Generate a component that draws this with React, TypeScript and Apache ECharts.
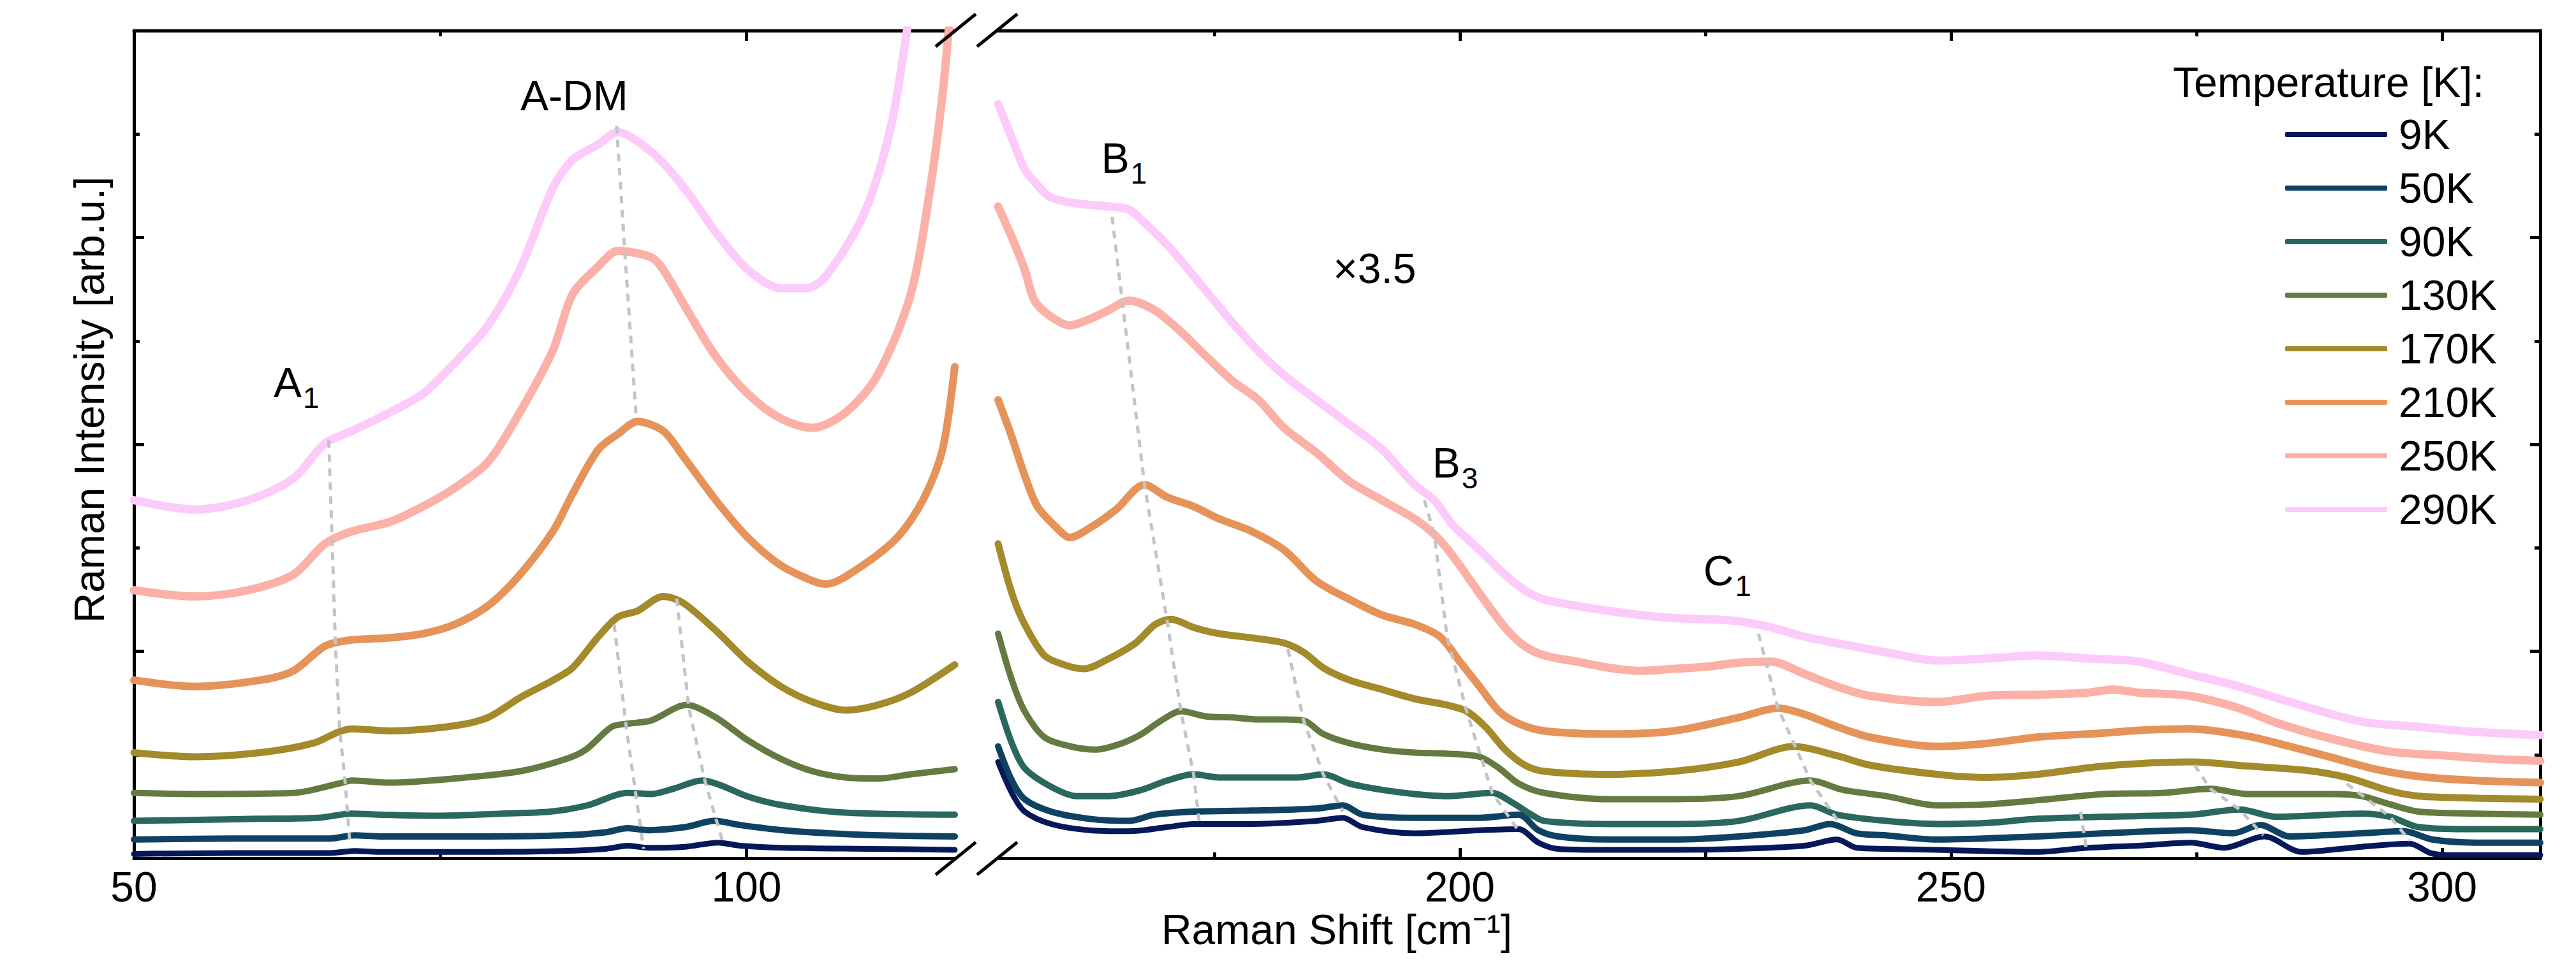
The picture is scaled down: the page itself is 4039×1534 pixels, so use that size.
import React, { useEffect, useRef } from 'react';
import * as echarts from 'echarts';

const FONT = '"Liberation Sans", Arial, Helvetica, sans-serif';
const W = 4039;
const H = 1534;

const temps = ['9K', '50K', '90K', '130K', '170K', '210K', '250K', '290K'];
const colors = ['#06185a', '#0f4262', '#2a675c', '#657a40', '#a38a2a', '#e6935a', '#fbb0a8', '#fccbfa'];
const widths = [9, 10, 10, 10, 11, 12, 13, 13];

// x ticks
const leftMajor = [50, 100];
const leftMinor = [75];
const rightMajor = [200, 250, 300];
const rightMinor = [175, 225, 275];

// ---- left panel (50 - 117 cm-1) ----
const left9K = [[50,0.04],[58,0.05],[66,0.05],[68,0.07],[70,0.06],[78,0.06],[85,0.07],[88.5,0.09],[90.3,0.12],[92,0.1],[95,0.11],[97.7,0.15],[99.5,0.12],[103,0.1],[110,0.09],[117,0.08]];
const left50K = [[50,0.18],[58,0.19],[66,0.19],[68,0.22],[70,0.21],[78,0.21],[85,0.22],[88.5,0.25],[90.3,0.29],[92,0.27],[95,0.3],[97.4,0.36],[99.5,0.32],[103,0.27],[106.7,0.24],[111,0.22],[117,0.21]];
const left90K = [[50,0.36],[55,0.37],[60,0.38],[65,0.39],[67.8,0.43],[70,0.42],[75,0.41],[80,0.43],[84,0.45],[87,0.51],[90.3,0.63],[92.2,0.62],[94,0.67],[96.4,0.75],[98,0.7],[100,0.6],[103,0.51],[108,0.44],[117,0.42]];
const left130K = [[50,0.63],[55,0.62],[63,0.63],[66.7,0.72],[67.8,0.75],[70.9,0.73],[76.2,0.77],[81.5,0.84],[85.3,0.96],[86.9,1.05],[89,1.27],[90.3,1.3],[92.2,1.33],[95.1,1.48],[97.5,1.36],[100.1,1.14],[102.8,0.96],[105.4,0.84],[108.1,0.78],[110.7,0.77],[113.4,0.81],[117,0.86]];
const left170K = [[50,1.02],[55,0.98],[60.3,1.02],[64.6,1.11],[66.7,1.22],[67.8,1.25],[70.9,1.23],[76.2,1.28],[78.9,1.36],[81.5,1.55],[84.2,1.72],[85.8,1.84],[87.9,2.14],[89.5,2.33],[91.1,2.39],[93.2,2.53],[94.8,2.47],[97.5,2.2],[100.1,1.9],[102.8,1.66],[105.4,1.51],[108.1,1.43],[110.7,1.48],[113.4,1.6],[117,1.87]];
const left210K = [[50,1.72],[55,1.66],[60.3,1.72],[63,1.81],[65.6,2.05],[67.8,2.11],[70.9,2.13],[73.6,2.17],[76.2,2.26],[78.9,2.44],[81.5,2.74],[84.2,3.16],[85.8,3.52],[87.9,3.95],[89.5,4.1],[91.1,4.22],[93.2,4.13],[94.8,3.89],[97.5,3.46],[100.1,3.1],[102.8,2.83],[105.4,2.68],[106.5,2.65],[109.1,2.8],[112.3,3.1],[114.4,3.46],[116,3.95],[117,4.75]];
const left250K = [[50,2.59],[55,2.53],[59.3,2.59],[63,2.74],[65.6,3.04],[67.8,3.16],[70.9,3.25],[73.6,3.4],[76.2,3.58],[78.9,3.83],[81.5,4.31],[84.2,4.91],[85.8,5.45],[87.9,5.72],[89.5,5.87],[92.2,5.81],[93.2,5.69],[95.3,5.27],[97.5,4.85],[100.1,4.49],[102.8,4.25],[105.4,4.16],[108.1,4.31],[110.7,4.67],[113.4,5.45],[115,6.48],[116,7.38],[116.5,8.0],[117,8.6]];
const left290K = [[50,3.46],[55,3.37],[59.3,3.46],[63,3.67],[65.6,4.01],[67.8,4.13],[70.9,4.31],[73.6,4.49],[76.2,4.79],[78.9,5.15],[81.5,5.69],[84.2,6.48],[85.8,6.75],[87.9,6.9],[89.5,7.02],[91.1,6.93],[93.2,6.72],[95.3,6.42],[97.5,6.05],[100.1,5.69],[102.8,5.51],[104.9,5.51],[106.5,5.63],[109.6,6.23],[111.8,7.08],[113.1,8.0],[113.8,8.6]];

// ---- right panel (153 - 310 cm-1), ×3.5 ----
const right9K = [[153,0.93],[154.4,0.63],[155.7,0.45],[158.4,0.33],[162.3,0.27],[166.3,0.26],[170.2,0.3],[172.9,0.33],[178.8,0.33],[185.4,0.36],[188.1,0.39],[190.1,0.3],[195.4,0.24],[202,0.27],[206,0.28],[208,0.15],[210,0.09],[215.2,0.08],[221.8,0.08],[228.4,0.09],[235.1,0.12],[238.4,0.18],[240.4,0.1],[243.4,0.09],[248.6,0.08],[258.8,0.06],[263.9,0.1],[269.1,0.12],[274.4,0.15],[277.8,0.1],[281.9,0.21],[285.7,0.06],[291.8,0.11],[296.7,0.14],[298.8,0.05],[300.5,0.03],[310,0.03]];
const right50K = [[153,1.08],[154.4,0.75],[155.7,0.57],[158.4,0.45],[162.3,0.38],[166.3,0.36],[168.9,0.42],[172.9,0.45],[178.8,0.46],[185.4,0.48],[188.1,0.51],[190.1,0.42],[195.4,0.39],[202,0.39],[206,0.42],[208,0.27],[210,0.21],[215.2,0.18],[221.8,0.18],[228.4,0.21],[235.1,0.27],[237.7,0.33],[240.4,0.24],[243.4,0.22],[248.6,0.18],[258.8,0.21],[265.6,0.24],[274.4,0.27],[278.7,0.24],[281.5,0.32],[284.5,0.21],[291.8,0.24],[296.1,0.26],[299,0.18],[303.4,0.15],[310,0.15]];
const right90K = [[153,1.51],[154.4,1.11],[155.7,0.87],[158.4,0.69],[161,0.6],[164.3,0.6],[167.6,0.66],[170.2,0.75],[172.9,0.81],[175.5,0.78],[179.5,0.78],[183.5,0.78],[186.1,0.81],[188.8,0.72],[192.1,0.66],[195.4,0.62],[198.7,0.6],[203.3,0.63],[205.3,0.54],[207.3,0.42],[208.6,0.36],[215.2,0.33],[221.8,0.33],[228.4,0.36],[235.7,0.51],[238.4,0.42],[243.4,0.36],[248.6,0.33],[253.7,0.34],[258.8,0.38],[265.6,0.4],[274.4,0.42],[279.4,0.47],[283.1,0.4],[291.8,0.43],[294.7,0.4],[297.6,0.3],[303.4,0.28],[310,0.28]];
const right130K = [[153,2.17],[154.4,1.72],[155.7,1.42],[157.7,1.17],[160.4,1.08],[163,1.05],[165.6,1.11],[167.6,1.2],[169.6,1.33],[171.6,1.42],[174.2,1.37],[176.9,1.36],[179.5,1.34],[182.1,1.34],[184.1,1.33],[186.1,1.2],[188.8,1.11],[192.1,1.05],[195.4,1.02],[198.7,1.01],[202,0.98],[204,0.87],[206,0.72],[208.6,0.63],[215.2,0.57],[221.8,0.57],[228.4,0.6],[235.7,0.75],[239,0.66],[243.4,0.6],[248.6,0.51],[253.7,0.52],[258.8,0.56],[265.6,0.62],[271.5,0.63],[276.4,0.67],[280.2,0.62],[288.9,0.62],[291.8,0.6],[294.7,0.52],[297.6,0.45],[303.4,0.43],[310,0.42]];
const right170K = [[153,3.04],[154.4,2.56],[155.7,2.26],[157.7,1.96],[159.7,1.87],[161.7,1.83],[164.3,1.93],[167,2.08],[169,2.26],[170.6,2.31],[172.9,2.23],[175.5,2.17],[178.8,2.13],[182.1,2.08],[184.1,1.99],[186.1,1.84],[188.8,1.72],[192.1,1.63],[195.4,1.54],[198.7,1.48],[200.7,1.42],[202.6,1.27],[204.6,1.05],[206.6,0.9],[208.6,0.84],[215.2,0.81],[221.8,0.84],[228.4,0.93],[234,1.08],[238.4,0.99],[241.7,0.9],[248.6,0.81],[253.7,0.78],[258.8,0.81],[265.6,0.89],[274.4,0.93],[280.2,0.89],[286,0.85],[290.3,0.78],[294.7,0.65],[297.6,0.6],[303.4,0.58],[310,0.57]];
const right210K = [[153,4.43],[154.4,4.07],[155.7,3.7],[157,3.4],[159,3.19],[160.3,3.1],[162.3,3.19],[165,3.37],[167.9,3.61],[170.2,3.49],[172.9,3.4],[175.5,3.28],[178.8,3.16],[182.1,2.98],[185.4,2.68],[188.8,2.5],[192.1,2.35],[195.4,2.26],[198,2.14],[200,1.9],[202,1.66],[204,1.42],[206,1.3],[208.6,1.23],[215.2,1.2],[221.8,1.23],[228.4,1.36],[232.4,1.45],[235.1,1.39],[238.4,1.27],[241.7,1.17],[248.6,1.08],[253.7,1.11],[258.8,1.17],[265.6,1.21],[270,1.24],[274.4,1.25],[280.2,1.18],[284.5,1.08],[288.9,0.97],[293.2,0.86],[297.6,0.79],[303.4,0.75],[310,0.73]];
const right250K = [[153,6.3],[154.4,6.0],[155.7,5.69],[156.7,5.39],[158.3,5.24],[160.3,5.15],[162.3,5.21],[164.3,5.3],[166.3,5.39],[168.9,5.3],[171.6,5.09],[174.2,4.85],[176.9,4.61],[179.5,4.43],[182.1,4.16],[185.4,3.92],[188.8,3.64],[192.1,3.46],[195.4,3.28],[197.4,3.13],[199.3,2.92],[202,2.56],[204.6,2.23],[206.6,2.05],[208.6,1.96],[211.9,1.9],[215.2,1.84],[218.5,1.81],[221.8,1.83],[225.1,1.85],[228.4,1.89],[231.7,1.9],[235.1,1.78],[238.4,1.66],[241.7,1.57],[248.6,1.51],[253.7,1.57],[258.8,1.58],[263.9,1.6],[266.5,1.63],[269.1,1.6],[274.2,1.57],[279.3,1.45],[283.1,1.31],[288.9,1.15],[294.7,1.03],[300.5,0.99],[305,0.96],[310,0.94]];
const right290K = [[153,7.29],[154.4,6.96],[155.7,6.66],[156.7,6.54],[158.3,6.39],[161,6.33],[164.3,6.3],[166.3,6.27],[167.6,6.17],[170.2,5.93],[172.9,5.63],[175.5,5.33],[178.8,4.97],[182.1,4.67],[185.4,4.43],[188.8,4.19],[192.1,3.95],[195.4,3.61],[197.4,3.46],[199.3,3.22],[202,2.98],[204.6,2.74],[206.6,2.59],[208.6,2.5],[211.9,2.44],[215.2,2.39],[218.5,2.35],[221.8,2.32],[225.1,2.31],[228.4,2.29],[231.7,2.23],[235.1,2.14],[238.3,2.08],[243.4,1.99],[248.6,1.91],[253.7,1.93],[258.8,1.96],[263.9,1.93],[269.1,1.9],[274.2,1.78],[279.3,1.66],[284.5,1.51],[291.8,1.32],[297.6,1.27],[303.4,1.22],[310,1.19]];

const leftData = [left9K, left50K, left90K, left130K, left170K, left210K, left250K, left290K];
const rightData = [right9K, right50K, right90K, right130K, right170K, right210K, right250K, right290K];

// dashed guide lines (peak tracking)
const guidesLeft = [
  [[65.9, 4.04], [66.17, 3.1], [66.44, 2.08], [66.8, 1.23], [67.23, 0.75], [67.6, 0.18]],
  [[89.4, 7.08], [90.1, 5.8], [91.0, 4.26]],
  [[89.2, 2.26], [90.2, 1.25], [91.6, 0.09]],
  [[94.3, 2.51], [95.3, 1.45], [96.6, 0.75], [98.0, 0.18]],
];
const guidesRight = [
  [[164.6, 6.2], [167.9, 3.61], [170.2, 2.3], [171.6, 1.42], [172.9, 0.81], [173.5, 0.33]],
  [[182.5, 2.02], [184.1, 1.33], [186.1, 0.81], [188.1, 0.45]],
  [[196.4, 3.46], [197.4, 3.13], [198.7, 2.14], [200.7, 1.42], [203.3, 0.63], [205.95, 0.27]],
  [[230.4, 2.17], [232.4, 1.45], [235.7, 0.75], [238.7, 0.33]],
  [[263.2, 0.45], [263.8, 0.08]],
  [[274.8, 0.9], [276.4, 0.67], [279.4, 0.47], [281.8, 0.22]],
  [[290.3, 0.72], [294.7, 0.4], [296.7, 0.17]],
];

// peak labels: [main, subscript, x, y]
const leftLabels: [string, string, number, number][] = [
  ['A', '1', 61.4, 4.6],
  ['A-DM', '', 81.55, 7.37],
];
const rightLabels: [string, string, number, number][] = [
  ['B', '1', 163.5, 6.77],
  ['×3.5', '', 187.1, 5.7],
  ['B', '3', 197.2, 3.82],
  ['C', '1', 224.8, 2.78],
];
const advance: Record<string, number> = { A: 0.667, B: 0.667, C: 0.722 };

const FS = 66;

export default function App() {
  const ref = useRef<HTMLDivElement>(null);
  useEffect(() => {
    const el = ref.current as HTMLDivElement;
    const chart = echarts.init(el, null, { renderer: 'svg', width: W, height: H });

    const black = '#000';
    const lineAx = { show: true, lineStyle: { color: black, width: 5 } };
    const xAx = (grid: number, min: number, max: number, pos: string, ticks: number[], long: boolean, labels: number[] | null, line: boolean) => ({
      type: 'value',
      gridIndex: grid,
      min,
      max,
      position: pos,
      axisLine: line ? lineAx : { show: false },
      axisTick: { show: true, inside: true, length: long ? 16 : 9, lineStyle: { color: black, width: 5 }, customValues: ticks },
      axisLabel: labels
        ? { show: true, customValues: labels, fontSize: FS, fontFamily: FONT, color: black, margin: 12 }
        : { show: false },
      splitLine: { show: false },
    });
    const yAx = (grid: number, pos: string) => ({
      type: 'value',
      gridIndex: grid,
      position: pos,
      min: 0,
      max: 8,
      interval: 2,
      axisLine: lineAx,
      axisTick: { show: true, inside: true, length: 16, lineStyle: { color: black, width: 5 } },
      minorTick: { show: true, splitNumber: 2, length: 9, lineStyle: { color: black, width: 5 } },
      axisLabel: { show: false },
      splitLine: { show: false },
      minorSplitLine: { show: false },
    });

    const series: any[] = [];
    temps.forEach((t, i) => {
      const common = {
        type: 'line',
        name: t,
        symbol: 'none',
        showSymbol: false,
        smooth: 0.3,
        color: colors[i],
        itemStyle: { color: colors[i] },
        lineStyle: { color: colors[i], width: widths[i], join: 'round', cap: 'round' },
        z: 2,
        silent: true,
      };
      series.push({ ...common, xAxisIndex: 0, yAxisIndex: 0, data: leftData[i] });
      series.push({ ...common, xAxisIndex: 4, yAxisIndex: 1, data: rightData[i] });
    });
    const guideStyle = { color: '#c4c4c4', width: 5, type: [12, 10] };
    guidesLeft.forEach((g, k) => series.push({ type: 'line', name: 'guideL' + k, xAxisIndex: 0, yAxisIndex: 0, data: g, symbol: 'none', lineStyle: guideStyle, z: 5, silent: true }));
    guidesRight.forEach((g, k) => series.push({ type: 'line', name: 'guideR' + k, xAxisIndex: 4, yAxisIndex: 1, data: g, symbol: 'none', lineStyle: guideStyle, z: 5, silent: true }));

    const txt = (x: number, y: number, text: string, size: number, align = 'left', extra: any = {}) => ({
      type: 'text',
      x,
      y,
      z: 100,
      silent: true,
      ...extra,
      style: { text, fontSize: size, fontFamily: FONT, fill: black, align, verticalAlign: 'middle' },
    });
    const brk = (x1: number, y1: number, x2: number, y2: number) => ({
      type: 'line',
      z: 100,
      silent: true,
      shape: { x1, y1, x2, y2 },
      style: { stroke: black, lineWidth: 5 },
    });

    const baseGraphics: any[] = [
      brk(1467, 1372, 1530, 1321),
      brk(1532, 1372, 1595, 1321),
      brk(1467, 73, 1530, 22),
      brk(1532, 73, 1595, 22),
      txt(2096, 1458, 'Raman Shift [cm\u207B\u00B9]', FS, 'center'),
      txt(140, 627, 'Raman Intensity [arb.u.]', FS, 'center', { rotation: Math.PI / 2 }),
      txt(3895, 129, 'Temperature [K]:', FS, 'right'),
    ];

    const option: any = {
      animation: false,
      backgroundColor: '#ffffff',
      grid: [
        { left: 210, right: W - 1497, top: 48, bottom: H - 1346 },
        { left: 1565, right: W - 3983, top: 48, bottom: H - 1346 },
      ],
      xAxis: [
        xAx(0, 50, 117, 'bottom', leftMajor, true, leftMajor, true),
        xAx(0, 50, 117, 'bottom', leftMinor, false, null, false),
        xAx(0, 50, 117, 'top', leftMajor, true, null, true),
        xAx(0, 50, 117, 'top', leftMinor, false, null, false),
        xAx(1, 153, 310, 'bottom', rightMajor, true, rightMajor, true),
        xAx(1, 153, 310, 'bottom', rightMinor, false, null, false),
        xAx(1, 153, 310, 'top', rightMajor, true, null, true),
        xAx(1, 153, 310, 'top', rightMinor, false, null, false),
      ],
      yAxis: [yAx(0, 'left'), yAx(1, 'right')],
      legend: {
        data: temps,
        orient: 'vertical',
        left: 3583,
        top: 178,
        padding: 0,
        itemWidth: 160,
        itemHeight: 8,
        itemGap: 18,
        icon: 'roundRect',
        selectedMode: false,
        textStyle: { fontSize: FS, fontFamily: FONT, color: black, lineHeight: 65, padding: [0, 0, 0, 13] },
      },
      series,
      graphic: baseGraphics,
    };
    chart.setOption(option);

    const labelGraphics: any[] = [];
    const addLabels = (list: [string, string, number, number][], xi: number, yi: number) => {
      list.forEach(([main, sub, x, y]) => {
        const p = chart.convertToPixel({ xAxisIndex: xi, yAxisIndex: yi }, [x, y]) as number[];
        labelGraphics.push(txt(p[0], p[1], main, FS));
        if (sub) {
          labelGraphics.push(txt(p[0] + (advance[main] || 0.667) * FS + 2, p[1] + 24, sub, 46));
        }
      });
    };
    addLabels(leftLabels, 0, 0);
    addLabels(rightLabels, 4, 1);
    chart.setOption({ graphic: [...baseGraphics, ...labelGraphics] });

    return () => {
      chart.dispose();
    };
  }, []);
  return <div ref={ref} style={{ position: 'fixed', left: 0, top: 0, width: W + 'px', height: H + 'px', background: '#fff' }} />;
}
